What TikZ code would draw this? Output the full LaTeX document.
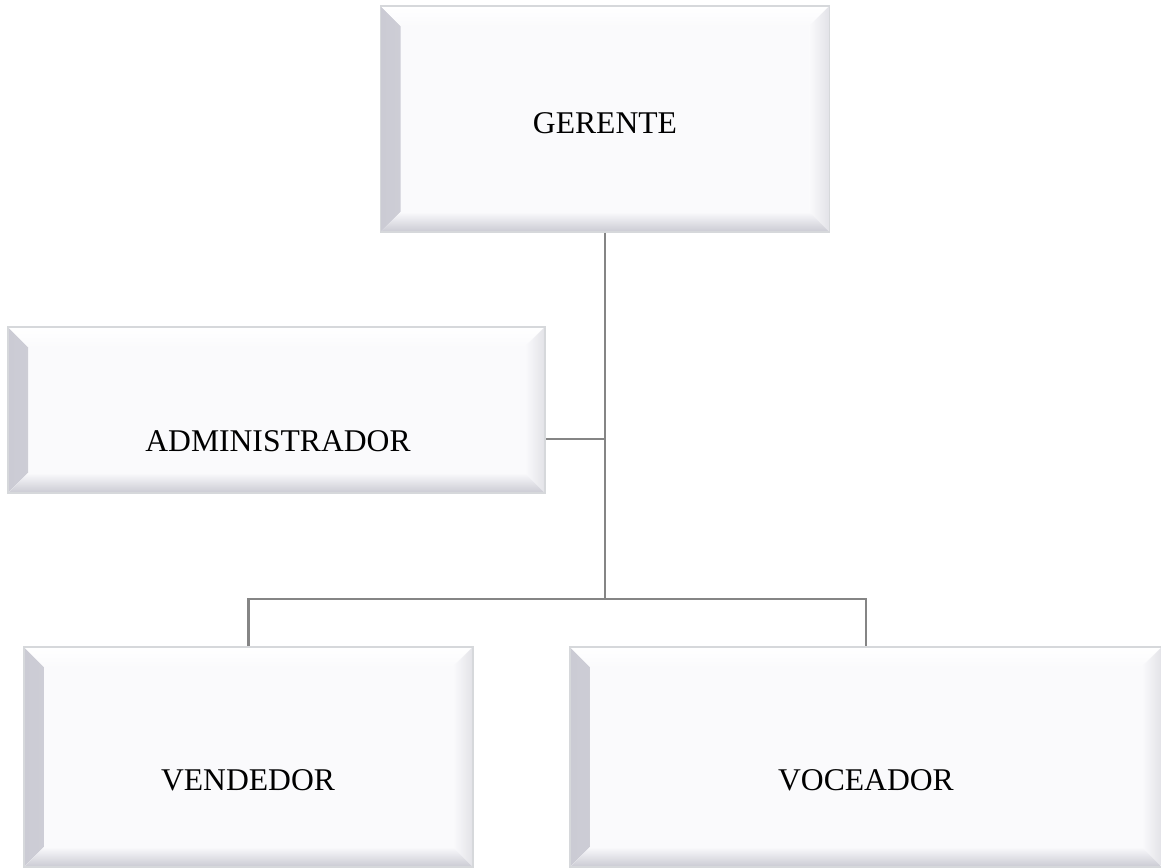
\documentclass[tikz,border=0pt]{standalone}
\usepackage{fontspec}
\setmainfont{Liberation Serif}
\usetikzlibrary{calc}

\definecolor{frame}{HTML}{D6D8DB}
\definecolor{face}{HTML}{FAFAFC}
\definecolor{bevL}{HTML}{CBCBD4}
\definecolor{bevB}{HTML}{CACAD3}
\definecolor{bevR}{HTML}{E2E2E7}
\definecolor{wire}{HTML}{858585}

\newlength\bevw
\setlength\bevw{0.4cm}

\tikzset{
  bevelbox/.style={
    draw=frame, line width=0.9pt, fill=face, inner sep=0pt,
    path picture={
      % left face
      \fill[left color=bevL, right color=face]
        let \p1=(path picture bounding box.south west),
            \p2=(path picture bounding box.north east) in
        (\x1,\y1) -- (\x1+\bevw,\y1+\bevw) -- (\x1+\bevw,\y2-\bevw) -- (\x1,\y2) -- cycle;
      % top face
      \fill[top color=white, bottom color=face]
        let \p1=(path picture bounding box.south west),
            \p2=(path picture bounding box.north east) in
        (\x1,\y2) -- (\x1+\bevw,\y2-\bevw) -- (\x2-\bevw,\y2-\bevw) -- (\x2,\y2) -- cycle;
      % right face
      \fill[left color=face, right color=bevR]
        let \p1=(path picture bounding box.south west),
            \p2=(path picture bounding box.north east) in
        (\x2,\y2) -- (\x2-\bevw,\y2-\bevw) -- (\x2-\bevw,\y1+\bevw) -- (\x2,\y1) -- cycle;
      % bottom face
      \fill[top color=face, bottom color=bevB]
        let \p1=(path picture bounding box.south west),
            \p2=(path picture bounding box.north east) in
        (\x1,\y1) -- (\x1+\bevw,\y1+\bevw) -- (\x2-\bevw,\y1+\bevw) -- (\x2,\y1) -- cycle;
    }},
  boxtext/.style={inner sep=0pt, font=\fontsize{18}{21}\selectfont},
  conn/.style={draw=wire, line width=1.15pt}
}

\begin{document}
\begin{tikzpicture}[x=0.02cm, y=-0.02cm]
  \useasboundingbox (0,0) rectangle (1161,867);

  % boxes
  \node[bevelbox, minimum width=8.98cm, minimum height=4.52cm] (ger) at (605,119) {};
  \node[bevelbox, minimum width=10.74cm, minimum height=3.32cm] (adm) at (276.5,410) {};
  \node[bevelbox, minimum width=8.98cm, minimum height=4.4cm] (ven) at (248.5,757) {};
  \node[bevelbox, minimum width=11.84cm, minimum height=4.4cm] (voc) at (866,757) {};

  % labels
  \node[boxtext] (gerT) at (605,123) {GERENTE};
  \node[boxtext] (admT) at (278,441) {ADMINISTRADOR};
  \node[boxtext] (venT) at (248,780) {VENDEDOR};
  \node[boxtext] (vocT) at (866,780) {VOCEADOR};

  % connectors
  \coordinate (hub) at (605,599);
  \coordinate (tee) at (605,439);
  \draw[conn] (ger.south) -- (hub);
  \draw[conn] (tee) -- (adm.east |- tee);
  \draw[conn] (ven.north) -- (ven.north |- hub) -- (voc.north |- hub) -- (voc.north);
\end{tikzpicture}
\end{document}
